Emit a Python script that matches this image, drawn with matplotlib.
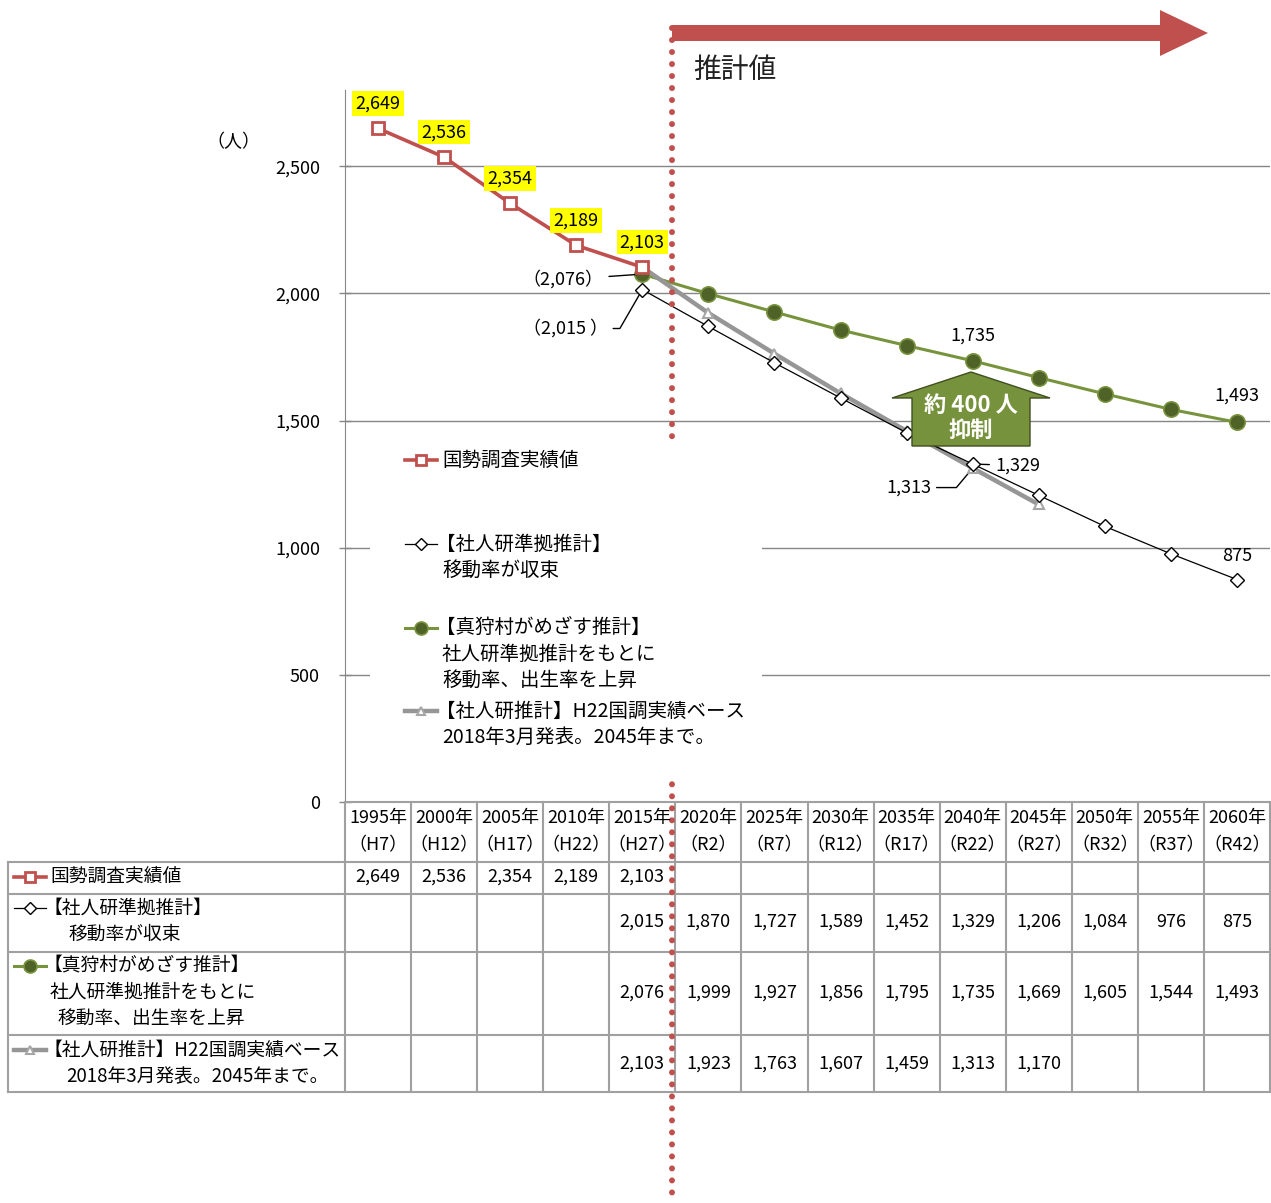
import matplotlib
matplotlib.use('Agg')
import matplotlib.pyplot as plt
import matplotlib.transforms as mtransforms
from matplotlib.patches import FancyArrow, Polygon, Rectangle

plt.rcParams['font.family'] = ['Noto Sans CJK JP', 'DejaVu Sans']

# population data (people)
years = ['1995年', '2000年', '2005年', '2010年', '2015年', '2020年', '2025年',
         '2030年', '2035年', '2040年', '2045年', '2050年', '2055年', '2060年']
eras = ['（H7）', '（H12）', '（H17）', '（H22）', '（H27）', '（R2）', '（R7）',
        '（R12）', '（R17）', '（R22）', '（R27）', '（R32）', '（R37）', '（R42）']
actual = [2649, 2536, 2354, 2189, 2103]
ipss_based = [2015, 1870, 1727, 1589, 1452, 1329, 1206, 1084, 976, 875]
village_goal = [2076, 1999, 1927, 1856, 1795, 1735, 1669, 1605, 1544, 1493]
ipss_h22 = [2103, 1923, 1763, 1607, 1459, 1313, 1170]

series_names = [
    ['国勢調査実績値'],
    ['【社人研準拠推計】', '移動率が収束'],
    ['【真狩村がめざす推計】', '社人研準拠推計をもとに', '移動率、出生率を上昇'],
    ['【社人研推計】H22国調実績ベース', '2018年3月発表。2045年まで。'],
]

RED = '#C0504D'
GREEN = '#77933C'
DKGREEN = '#4F6228'
GRAY = '#969696'

st_actual = dict(color=RED, lw=2.6, marker='s', ms=8.5, mfc='white', mec=RED, mew=2)
st_ipss = dict(color='black', lw=0.9, marker='D', ms=7, mfc='white', mec='black', mew=1)
st_goal = dict(color=GREEN, lw=2.2, marker='o', ms=11, mfc=DKGREEN, mec=GREEN, mew=1.2)
st_h22 = dict(color=GRAY, lw=3.2, marker='^', ms=7, mfc='white', mec='#A6A6A6', mew=1.5)
styles = [st_actual, st_ipss, st_goal, st_h22]

W, H = 1271, 1203
fig = plt.figure(figsize=(W / 100, H / 100), dpi=100)
ax = fig.add_axes([345 / W, 1 - 802 / H, 925 / W, (802 - 90) / H])
ov = fig.add_axes([0, 0, 1, 1], zorder=5)
ov.set_xlim(0, W)
ov.set_ylim(H, 0)
ov.axis('off')
ov.patch.set_visible(False)

# --- main chart ---
ax.set_xlim(-0.5, 13.5)
ax.set_ylim(0, 2800)
ax.set_yticks(range(0, 3000, 500))
ax.set_yticklabels([f'{v:,}' for v in range(0, 3000, 500)], fontsize=13)
ax.tick_params(axis='y', direction='inout', length=8, width=1, color='#868686', pad=14)
ax.set_xticks([])
ax.grid(axis='y', color='#868686', lw=1)
ax.set_axisbelow(True)
for side in ['top', 'right', 'bottom']:
    ax.spines[side].set_visible(False)
ax.spines['left'].set_color('#868686')

ax.plot(range(4, 4 + len(village_goal)), village_goal, zorder=3, **st_goal)
ax.plot(range(4, 4 + len(ipss_h22)), ipss_h22, zorder=4, **st_h22)
ax.plot(range(4, 4 + len(ipss_based)), ipss_based, zorder=5, **st_ipss)
ax.plot(range(len(actual)), actual, zorder=6, **st_actual)

for i, v in enumerate(actual):
    ax.annotate(f'{v:,}', (i, v), xytext=(0, 18), textcoords='offset points',
                ha='center', va='center', fontsize=13, zorder=7,
                bbox=dict(boxstyle='square,pad=0.18', fc='yellow', ec='none'))

line_kw = dict(arrowstyle='-', color='black', lw=1, shrinkA=2, shrinkB=4)
ax.annotate(f'（{village_goal[0]:,}）', (4, village_goal[0]), xytext=(-28, -4),
            textcoords='offset points', ha='right', va='center', fontsize=13,
            arrowprops=line_kw)
ax.annotate(f'（{ipss_based[0]:,} ）', (4, ipss_based[0]), xytext=(-25, -28),
            textcoords='offset points', ha='right', va='center', fontsize=13,
            arrowprops=dict(line_kw, connectionstyle='angle,angleA=0,angleB=60,rad=0'))
ax.annotate(f'{ipss_based[5]:,}', (9, ipss_based[5]), xytext=(16, -1),
            textcoords='offset points', ha='left', va='center', fontsize=13,
            arrowprops=line_kw)
ax.annotate(f'{ipss_h22[5]:,}', (9, ipss_h22[5]), xytext=(-30, -14),
            textcoords='offset points', ha='right', va='center', fontsize=13,
            arrowprops=dict(line_kw, connectionstyle='angle,angleA=0,angleB=50,rad=0'))
ax.annotate(f'{village_goal[5]:,}', (9, village_goal[5]), xytext=(0, 18),
            textcoords='offset points', ha='center', va='center', fontsize=13)
ax.annotate(f'{village_goal[-1]:,}', (13, village_goal[-1]), xytext=(0, 19),
            textcoords='offset points', ha='center', va='center', fontsize=13)
ax.annotate(f'{ipss_based[-1]:,}', (13, ipss_based[-1]), xytext=(0, 17),
            textcoords='offset points', ha='center', va='center', fontsize=13)

ov.text(233, 142, '（人）', ha='center', va='center', fontsize=13)

# forecast marker: dotted divider and arrow
ov.plot([672, 672], [28, 1203], color=RED, lw=4.3, linestyle=(0, (0.01, 2.0)),
        dash_capstyle='round', solid_capstyle='round', zorder=3)
ov.add_patch(FancyArrow(672, 33, 536, 0, width=16, head_width=46, head_length=48,
                        length_includes_head=True, color=RED, lw=0, zorder=4))
ov.text(693, 70, '推計値', ha='left', va='center', fontsize=20, color='#222222')

# "about 400 people" up arrow
ov.add_patch(Polygon([(912, 446), (912, 398), (892, 398), (971, 372), (1050, 398),
                      (1030, 398), (1030, 446)], closed=True,
                     fc='#76923C', ec='#3F4F1F', lw=1, zorder=6))
ov.text(971, 405, '約 400 人', ha='center', va='center', fontsize=16,
        fontweight='bold', color='white', zorder=7)
ov.text(971, 430, '抑制', ha='center', va='center', fontsize=16,
        fontweight='bold', color='white', zorder=7)


def draw_key(x0, x1, y, st):
    ov.plot([x0, x1], [y, y], color=st['color'], lw=st['lw'], zorder=6)
    ov.plot([(x0 + x1) / 2], [y], linestyle='none', marker=st['marker'], ms=st['ms'] * 0.85,
            mfc=st['mfc'], mec=st['mec'], mew=st['mew'], zorder=7)


# legend
ov.add_patch(Rectangle((370, 441), 392, 337, fc='white', ec='none', zorder=5))
legend_y = [460, 544, 628, 711]
for names, y, st in zip(series_names, legend_y, styles):
    draw_key(405, 437, y, st)
    for k, name in enumerate(names):
        x = 436 if name.startswith('【') else 442
        ov.text(x, y + k * 26, name, ha='left', va='center', fontsize=14, zorder=7)

# --- data table ---
tab = mtransforms.blended_transform_factory(ax.transData, ov.transData)
TC = '#A0A0A0'
row_edges = [862, 894, 952, 1035, 1092]
for y in row_edges:
    ov.plot([8, 1270], [y, y], color=TC, lw=1.5, zorder=2)
ov.plot([345, 1270], [802, 802], color=TC, lw=1.5, zorder=2)
ov.plot([8, 8], [862, 1092], color=TC, lw=1.5, zorder=2)
for i in range(len(years) + 1):
    ov.plot([i - 0.5, i - 0.5], [802, 1092], color=TC, lw=1.5, zorder=2, transform=tab)

for i, (yr, era) in enumerate(zip(years, eras)):
    ov.text(i, 818, yr, transform=tab, ha='center', va='center', fontsize=13)
    ov.text(i, 845, era, transform=tab, ha='center', va='center', fontsize=13)

row_centers = [877, 922, 993, 1064]
row_starts = [0, 4, 4, 4]
for vals, start, y in zip([actual, ipss_based, village_goal, ipss_h22], row_starts, row_centers):
    for j, v in enumerate(vals):
        ov.text(start + j, y, f'{v:,}', transform=tab, ha='center', va='center', fontsize=13)

label_rows = [[877], [908, 934], [966, 992, 1018], [1050, 1077]]
label_x = [[50], [44, 69], [44, 50, 58], [44, 66]]
for names, ys, xs, st in zip(series_names, label_rows, label_x, styles):
    draw_key(14, 46, ys[0], st)
    for name, y, x in zip(names, ys, xs):
        ov.text(x, y, name, ha='left', va='center', fontsize=13.5)

fig.savefig('out.png', dpi=100)
